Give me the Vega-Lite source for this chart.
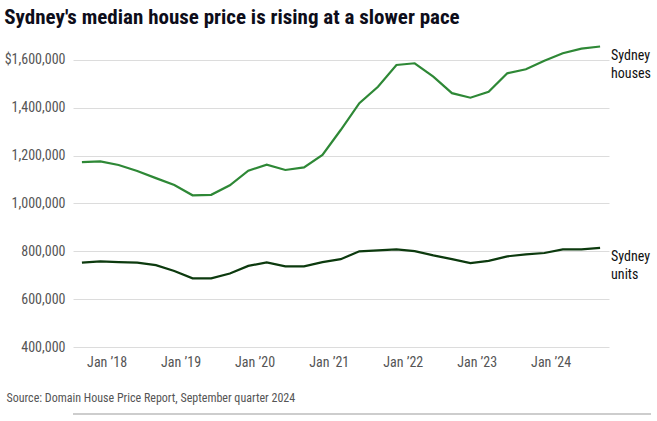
{
  "$schema": "https://vega.github.io/schema/vega-lite/v6.json",
  "padding": {"left": 4, "top": 7, "right": 5, "bottom": 2},
  "background": "white",
  "title": {
    "text": "Sydney's median house price is rising at a slower pace",
    "anchor": "start",
    "fontSize": 21,
    "fontWeight": "bold",
    "color": "#0d0d1a",
    "offset": 8
  },
  "datasets": {
    "prices": [
      {"date": "2017-09-01", "series": "Sydney houses", "price": 1173000},
      {"date": "2017-12-01", "series": "Sydney houses", "price": 1176000},
      {"date": "2018-03-01", "series": "Sydney houses", "price": 1161000},
      {"date": "2018-06-01", "series": "Sydney houses", "price": 1136000},
      {"date": "2018-09-01", "series": "Sydney houses", "price": 1106000},
      {"date": "2018-12-01", "series": "Sydney houses", "price": 1077000},
      {"date": "2019-03-01", "series": "Sydney houses", "price": 1034000},
      {"date": "2019-06-01", "series": "Sydney houses", "price": 1036000},
      {"date": "2019-09-01", "series": "Sydney houses", "price": 1076000},
      {"date": "2019-12-01", "series": "Sydney houses", "price": 1137000},
      {"date": "2020-03-01", "series": "Sydney houses", "price": 1162000},
      {"date": "2020-06-01", "series": "Sydney houses", "price": 1140000},
      {"date": "2020-09-01", "series": "Sydney houses", "price": 1151000},
      {"date": "2020-12-01", "series": "Sydney houses", "price": 1203000},
      {"date": "2021-03-01", "series": "Sydney houses", "price": 1307000},
      {"date": "2021-06-01", "series": "Sydney houses", "price": 1419000},
      {"date": "2021-09-01", "series": "Sydney houses", "price": 1488000},
      {"date": "2021-12-01", "series": "Sydney houses", "price": 1579000},
      {"date": "2022-03-01", "series": "Sydney houses", "price": 1586000},
      {"date": "2022-06-01", "series": "Sydney houses", "price": 1530000},
      {"date": "2022-09-01", "series": "Sydney houses", "price": 1461000},
      {"date": "2022-12-01", "series": "Sydney houses", "price": 1442000},
      {"date": "2023-03-01", "series": "Sydney houses", "price": 1467000},
      {"date": "2023-06-01", "series": "Sydney houses", "price": 1544000},
      {"date": "2023-09-01", "series": "Sydney houses", "price": 1561000},
      {"date": "2023-12-01", "series": "Sydney houses", "price": 1597000},
      {"date": "2024-03-01", "series": "Sydney houses", "price": 1628000},
      {"date": "2024-06-01", "series": "Sydney houses", "price": 1647000},
      {"date": "2024-09-01", "series": "Sydney houses", "price": 1656000},
      {"date": "2017-09-01", "series": "Sydney units", "price": 753000},
      {"date": "2017-12-01", "series": "Sydney units", "price": 758000},
      {"date": "2018-03-01", "series": "Sydney units", "price": 755000},
      {"date": "2018-06-01", "series": "Sydney units", "price": 753000},
      {"date": "2018-09-01", "series": "Sydney units", "price": 742000},
      {"date": "2018-12-01", "series": "Sydney units", "price": 718000},
      {"date": "2019-03-01", "series": "Sydney units", "price": 687000},
      {"date": "2019-06-01", "series": "Sydney units", "price": 687000},
      {"date": "2019-09-01", "series": "Sydney units", "price": 707000},
      {"date": "2019-12-01", "series": "Sydney units", "price": 739000},
      {"date": "2020-03-01", "series": "Sydney units", "price": 754000},
      {"date": "2020-06-01", "series": "Sydney units", "price": 737000},
      {"date": "2020-09-01", "series": "Sydney units", "price": 737000},
      {"date": "2020-12-01", "series": "Sydney units", "price": 755000},
      {"date": "2021-03-01", "series": "Sydney units", "price": 767000},
      {"date": "2021-06-01", "series": "Sydney units", "price": 800000},
      {"date": "2021-09-01", "series": "Sydney units", "price": 804000},
      {"date": "2021-12-01", "series": "Sydney units", "price": 808000},
      {"date": "2022-03-01", "series": "Sydney units", "price": 801000},
      {"date": "2022-06-01", "series": "Sydney units", "price": 783000},
      {"date": "2022-09-01", "series": "Sydney units", "price": 767000},
      {"date": "2022-12-01", "series": "Sydney units", "price": 751000},
      {"date": "2023-03-01", "series": "Sydney units", "price": 760000},
      {"date": "2023-06-01", "series": "Sydney units", "price": 779000},
      {"date": "2023-09-01", "series": "Sydney units", "price": 787000},
      {"date": "2023-12-01", "series": "Sydney units", "price": 793000},
      {"date": "2024-03-01", "series": "Sydney units", "price": 808000},
      {"date": "2024-06-01", "series": "Sydney units", "price": 808000},
      {"date": "2024-09-01", "series": "Sydney units", "price": 814000}
    ]
  },
  "spacing": 10,
  "vconcat": [
    {
      "width": 536,
      "height": 311,
      "data": {"name": "prices"},
      "encoding": {
        "x": {
          "field": "date",
          "type": "temporal",
          "title": "Source: Domain House Price Report, September quarter 2024",
          "scale": {
            "type": "utc",
            "nice": false,
            "domain": [
              {"year": 2017, "month": 7, "date": 19, "utc": true},
              {"year": 2024, "month": 10, "date": 15, "utc": true}
            ]
          },
          "axis": {
            "values": [
              {"year": 2018, "month": 1, "date": 1, "utc": true},
              {"year": 2019, "month": 1, "date": 1, "utc": true},
              {"year": 2020, "month": 1, "date": 1, "utc": true},
              {"year": 2021, "month": 1, "date": 1, "utc": true},
              {"year": 2022, "month": 1, "date": 1, "utc": true},
              {"year": 2023, "month": 1, "date": 1, "utc": true},
              {"year": 2024, "month": 1, "date": 1, "utc": true}
            ],
            "labelExpr": "utcFormat(datum.value, '%b ’%y')",
            "grid": false,
            "ticks": false,
            "domain": false,
            "labelPadding": 8,
            "labelFlush": false,
            "labelOverlap": false,
            "titleAnchor": "start",
            "titleAlign": "left",
            "titleBaseline": "alphabetic",
            "titleX": -67,
            "titleY": 54,
            "titleFontSize": 12,
            "titleFontWeight": "normal",
            "titleColor": "#555555",
            "titleFont": "Roboto Condensed, Roboto, sans-serif"
          }
        },
        "y": {
          "field": "price",
          "type": "quantitative",
          "title": null,
          "scale": {"domain": [400000, 1700000], "nice": false, "zero": false},
          "axis": {
            "values": [400000, 600000, 800000, 1000000, 1200000, 1400000, 1600000],
            "labelExpr": "datum.value == 1600000 ? '$1,600,000' : format(datum.value, ',')",
            "grid": true,
            "gridColor": "#dcdcdc",
            "ticks": false,
            "domain": false,
            "labelPadding": 8,
            "minExtent": 68,
            "maxExtent": 68
          }
        },
        "color": {
          "field": "series",
          "type": "nominal",
          "legend": null,
          "scale": {"domain": ["Sydney houses", "Sydney units"], "range": ["#2e8836", "#0c3a0e"]}
        }
      },
      "layer": [
        {"mark": {"type": "line", "strokeWidth": 2.2}},
        {
          "transform": [{"filter": "year(datum.date) == 2024 && month(datum.date) == 8"}],
          "mark": {
            "type": "text",
            "align": "left",
            "baseline": "middle",
            "dx": 11,
            "dy": 9,
            "fontSize": 14,
            "lineHeight": 18,
            "lineBreak": " ",
            "color": "#111111"
          },
          "encoding": {
            "text": {"field": "series"},
            "color": {"value": "#111111"}
          }
        }
      ]
    },
    {
      "width": 578,
      "height": 1,
      "data": {"values": [{"base": 0}]},
      "mark": {"type": "rule", "color": "#bdbdbd", "strokeWidth": 1.5},
      "encoding": {
        "y": {"field": "base", "type": "quantitative", "axis": null, "scale": {"domain": [0, 1]}}
      }
    }
  ],
  "config": {
    "font": "Roboto Condensed, Roboto, sans-serif",
    "view": {"stroke": null},
    "axis": {"labelFontSize": 14, "labelColor": "#555555", "labelFont": "Roboto Condensed, Roboto, sans-serif"},
    "title": {"font": "Roboto Condensed, Roboto, sans-serif"}
  }
}
